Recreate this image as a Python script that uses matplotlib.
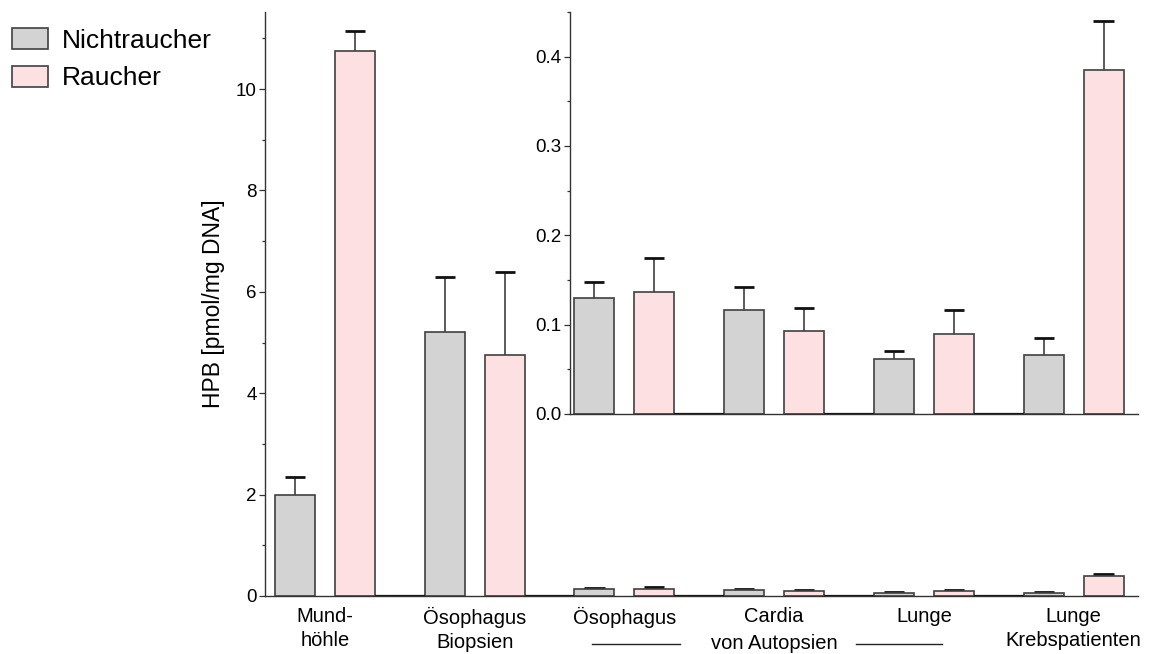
import matplotlib
matplotlib.use("Agg")
import matplotlib.pyplot as plt
from matplotlib.ticker import MultipleLocator
from matplotlib.patches import Patch
import numpy as np

plt.rcParams['font.family'] = ['Liberation Sans', 'DejaVu Sans']

# data
groups = ['Mund-\nhöhle', 'Ösophagus\nBiopsien', 'Ösophagus', 'Cardia', 'Lunge',
          'Lunge\nKrebspatienten']
nicht = [2.0, 5.2, 0.130, 0.116, 0.061, 0.066]
nicht_err = [0.35, 1.1, 0.018, 0.026, 0.009, 0.019]
raucher = [10.75, 4.75, 0.137, 0.093, 0.090, 0.385]
raucher_err = [0.40, 1.65, 0.038, 0.026, 0.026, 0.055]
inset_from = 2  # autopsy groups and cancer patients are repeated in the inset

GRAY = '#d3d3d3'
PINK = '#fde0e2'
EDGE = '#404040'
off, w = 0.2, 0.267


def draw_bars(ax, idx):
    x = np.arange(len(groups))[idx]
    n = np.array(nicht)[idx]
    r = np.array(raucher)[idx]
    ne = np.array(nicht_err)[idx]
    re = np.array(raucher_err)[idx]
    for xs, h, e, col in [(x - off, n, ne, GRAY), (x + off, r, re, PINK)]:
        ax.vlines(xs, h, h + e, color=EDGE, lw=1.2, zorder=1)
        ax.hlines(h + e, xs - 0.067, xs + 0.067, color='#111111', lw=2, zorder=1)
        ax.bar(xs, h, width=w, color=col, edgecolor=EDGE, lw=1.2, zorder=2)
    # empty spacer bars between groups
    sp = x[:-1] + 0.5
    ax.bar(sp, np.zeros(len(sp)), width=1 - 2 * off - w, color='none',
           edgecolor='#111111', lw=1.6, zorder=2)


def style(ax):
    for s in ['top', 'right']:
        ax.spines[s].set_visible(False)
    for s in ['left', 'bottom']:
        ax.spines[s].set_color('#333333')
        ax.spines[s].set_linewidth(1.0)
    ax.tick_params(axis='y', which='major', length=4, width=0.9, color='#333333',
                   labelsize=13.5, pad=2)
    ax.tick_params(axis='y', which='minor', length=2.5, width=0.9, color='#333333')


fig = plt.figure(figsize=(11.56, 6.54), dpi=100)
ax = fig.add_axes([0.2292, 0.0887, 0.7552, 0.893])
draw_bars(ax, slice(0, None))
ax.set_xlim(-0.401, 5.43)
ax.set_ylim(0, 11.52)
ax.yaxis.set_major_locator(MultipleLocator(2))
ax.yaxis.set_minor_locator(MultipleLocator(1))
style(ax)
ax.set_xticks(np.arange(len(groups)))
ax.set_xticklabels(groups, fontsize=14.5, linespacing=1.3)
ax.tick_params(axis='x', length=0, pad=8)
ax.set_ylabel('HPB [pmol/mg DNA]', fontsize=16.5, labelpad=8)

# "von Autopsien" caption under Cardia, with lines either side
tr = ax.get_xaxis_transform()
yc = -0.082
ax.text(3, yc, 'von Autopsien', transform=tr, ha='center', va='center',
        fontsize=14.5)
ax.plot([1.785, 2.373], [yc, yc], transform=tr, color='#222222',
        lw=1, clip_on=False)
ax.plot([3.55, 4.12], [yc, yc], transform=tr, color='#222222',
        lw=1, clip_on=False)

# inset with the small values
ins = fig.add_axes([0.4931, 0.367, 0.4913, 0.6147])
ins.patch.set_alpha(0)
draw_bars(ins, slice(inset_from, None))
ins.set_xlim(1.637, 5.43)
ins.set_ylim(0, 0.45)
ins.yaxis.set_major_locator(MultipleLocator(0.1))
ins.yaxis.set_minor_locator(MultipleLocator(0.05))
ins.yaxis.set_major_formatter(matplotlib.ticker.FormatStrFormatter('%.1f'))
style(ins)
ins.set_xticks([])

handles = [Patch(facecolor=GRAY, edgecolor=EDGE, lw=1.2, label='Nichtraucher'),
           Patch(facecolor=PINK, edgecolor=EDGE, lw=1.2, label='Raucher')]
fig.legend(handles=handles, loc='upper left', bbox_to_anchor=(0.0, 0.975),
           frameon=False, fontsize=19, handlelength=1.36, handleheight=0.83,
           handletextpad=0.53, labelspacing=0.5, borderaxespad=0.05)

fig.savefig('out.png', dpi=100)
